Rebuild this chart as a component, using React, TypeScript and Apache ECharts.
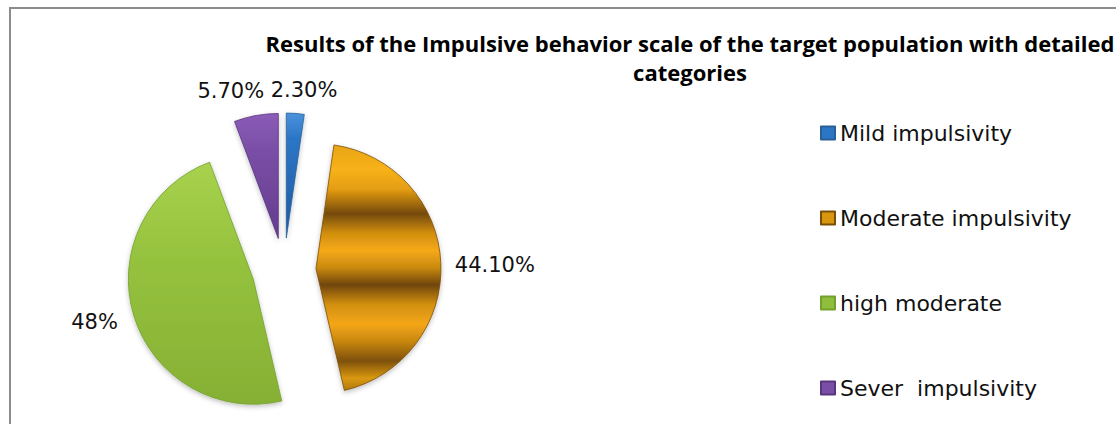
import React, { useEffect, useRef } from "react";
import * as echarts from "echarts";

const categories = ["Mild impulsivity", "Moderate impulsivity", "high moderate", "Sever  impulsivity"];
const values = [2.3, 44.1, 48, 5.7];
const titleLines = ["Results of the Impulsive behavior scale of the target population with detailed", "categories"];

const FONT = "'DejaVu Sans', 'Open Sans', sans-serif";
const TITLE_FONT = "'Open Sans', Lato, sans-serif";

const colors = [
  new echarts.graphic.LinearGradient(0, 0, 0, 1, [
    { offset: 0, color: "#4a92dc" },
    { offset: 0.2, color: "#2c76c6" },
    { offset: 1, color: "#1d5aa0" },
  ]),
  new echarts.graphic.LinearGradient(0, 0, 0, 1, [
    { offset: 0, color: "#e9a414" },
    { offset: 0.1, color: "#f7b21a" },
    { offset: 0.18, color: "#e59d12" },
    { offset: 0.28, color: "#74490a" },
    { offset: 0.36, color: "#d28f10" },
    { offset: 0.43, color: "#f6a915" },
    { offset: 0.5, color: "#c98a10" },
    { offset: 0.57, color: "#704508" },
    { offset: 0.65, color: "#d29010" },
    { offset: 0.73, color: "#f4a616" },
    { offset: 0.8, color: "#c88810" },
    { offset: 0.88, color: "#7e5008" },
    { offset: 0.95, color: "#d99812" },
    { offset: 1, color: "#b07a0e" },
  ]),
  new echarts.graphic.LinearGradient(0, 0, 0, 1, [
    { offset: 0, color: "#a8d24e" },
    { offset: 0.4, color: "#95c23e" },
    { offset: 1, color: "#86b034" },
  ]),
  new echarts.graphic.LinearGradient(0, 0, 0, 1, [
    { offset: 0, color: "#8a5cb6" },
    { offset: 0.3, color: "#7a4ea6" },
    { offset: 1, color: "#653c8e" },
  ]),
];
const borderColors = ["#2a5f98", "#7a4e08", "#74a02c", "#5a3680"];
const legendColors = ["#2c76c6", "#d8960f", "#8fbe3c", "#7a4ea6"];

const labelShift = [
  { dx: -30, dy: -18 },
  { dx: 4, dy: 2 },
  { dx: -6, dy: 5 },
  { dx: 14, dy: -20 },
];

export default function App() {
  const ref = useRef<HTMLDivElement>(null);
  useEffect(() => {
    if (!ref.current) return;
    const chart = echarts.init(ref.current, null, { renderer: "svg" });
    chart.setOption({
      animation: false,
      backgroundColor: "#ffffff",
      graphic: [
        {
          type: "rect",
          shape: { x: 10, y: 8, width: 1200, height: 500 },
          style: { fill: "none", stroke: "#8c8c8c", lineWidth: 2 },
          silent: true,
          z: 0,
        },
        {
          type: "text",
          x: 690,
          y: 28,
          style: {
            text: titleLines.join("\n"),
            align: "center",
            verticalAlign: "top",
            fontFamily: TITLE_FONT,
            fontWeight: "bold",
            fontSize: 22,
            lineHeight: 29,
            fill: "#000000",
          },
        },
      ],
      legend: {
        orient: "vertical",
        left: 815,
        top: 116,
        itemWidth: 14,
        itemHeight: 13,
        itemGap: 61,
        icon: "rect",
        selectedMode: false,
        data: categories.map((c, i) => ({ name: c, itemStyle: { color: legendColors[i] } })),
        textStyle: { fontFamily: FONT, fontSize: 22, color: "#111111", lineHeight: 24 },
      },
      series: [
        {
          type: "pie",
          center: [284, 270],
          radius: 125,
          startAngle: 90,
          clockwise: true,
          selectedMode: "multiple",
          selectedOffset: 32,
          avoidLabelOverlap: false,
          emphasis: { disabled: true },
          select: { disabled: false },
          label: {
            show: true,
            position: "outside",
            fontFamily: FONT,
            fontSize: 21,
            color: "#111111",
            formatter: (p: any) =>
              (Number.isInteger(p.value) ? String(p.value) : p.value.toFixed(2)) + "%",
          },
          labelLine: { show: false, length: 5, length2: 0 },
          labelLayout: (p: any) => labelShift[p.dataIndex],
          data: categories.map((c, i) => ({
            name: c,
            value: values[i],
            selected: true,
            itemStyle: {
              color: colors[i],
              borderColor: borderColors[i],
              borderWidth: 0.8,
              shadowBlur: 5,
              shadowColor: "rgba(0,0,0,0.25)",
              shadowOffsetY: 2,
            },
            select: {
              itemStyle: {
                color: colors[i],
                borderColor: borderColors[i],
                borderWidth: 0.8,
              },
            },
          })),
        },
      ],
    });
    return () => chart.dispose();
  }, []);
  return (
    <div
      ref={ref}
      style={{ position: "fixed", left: 0, top: 0, width: 1116, height: 424 }}
    />
  );
}
